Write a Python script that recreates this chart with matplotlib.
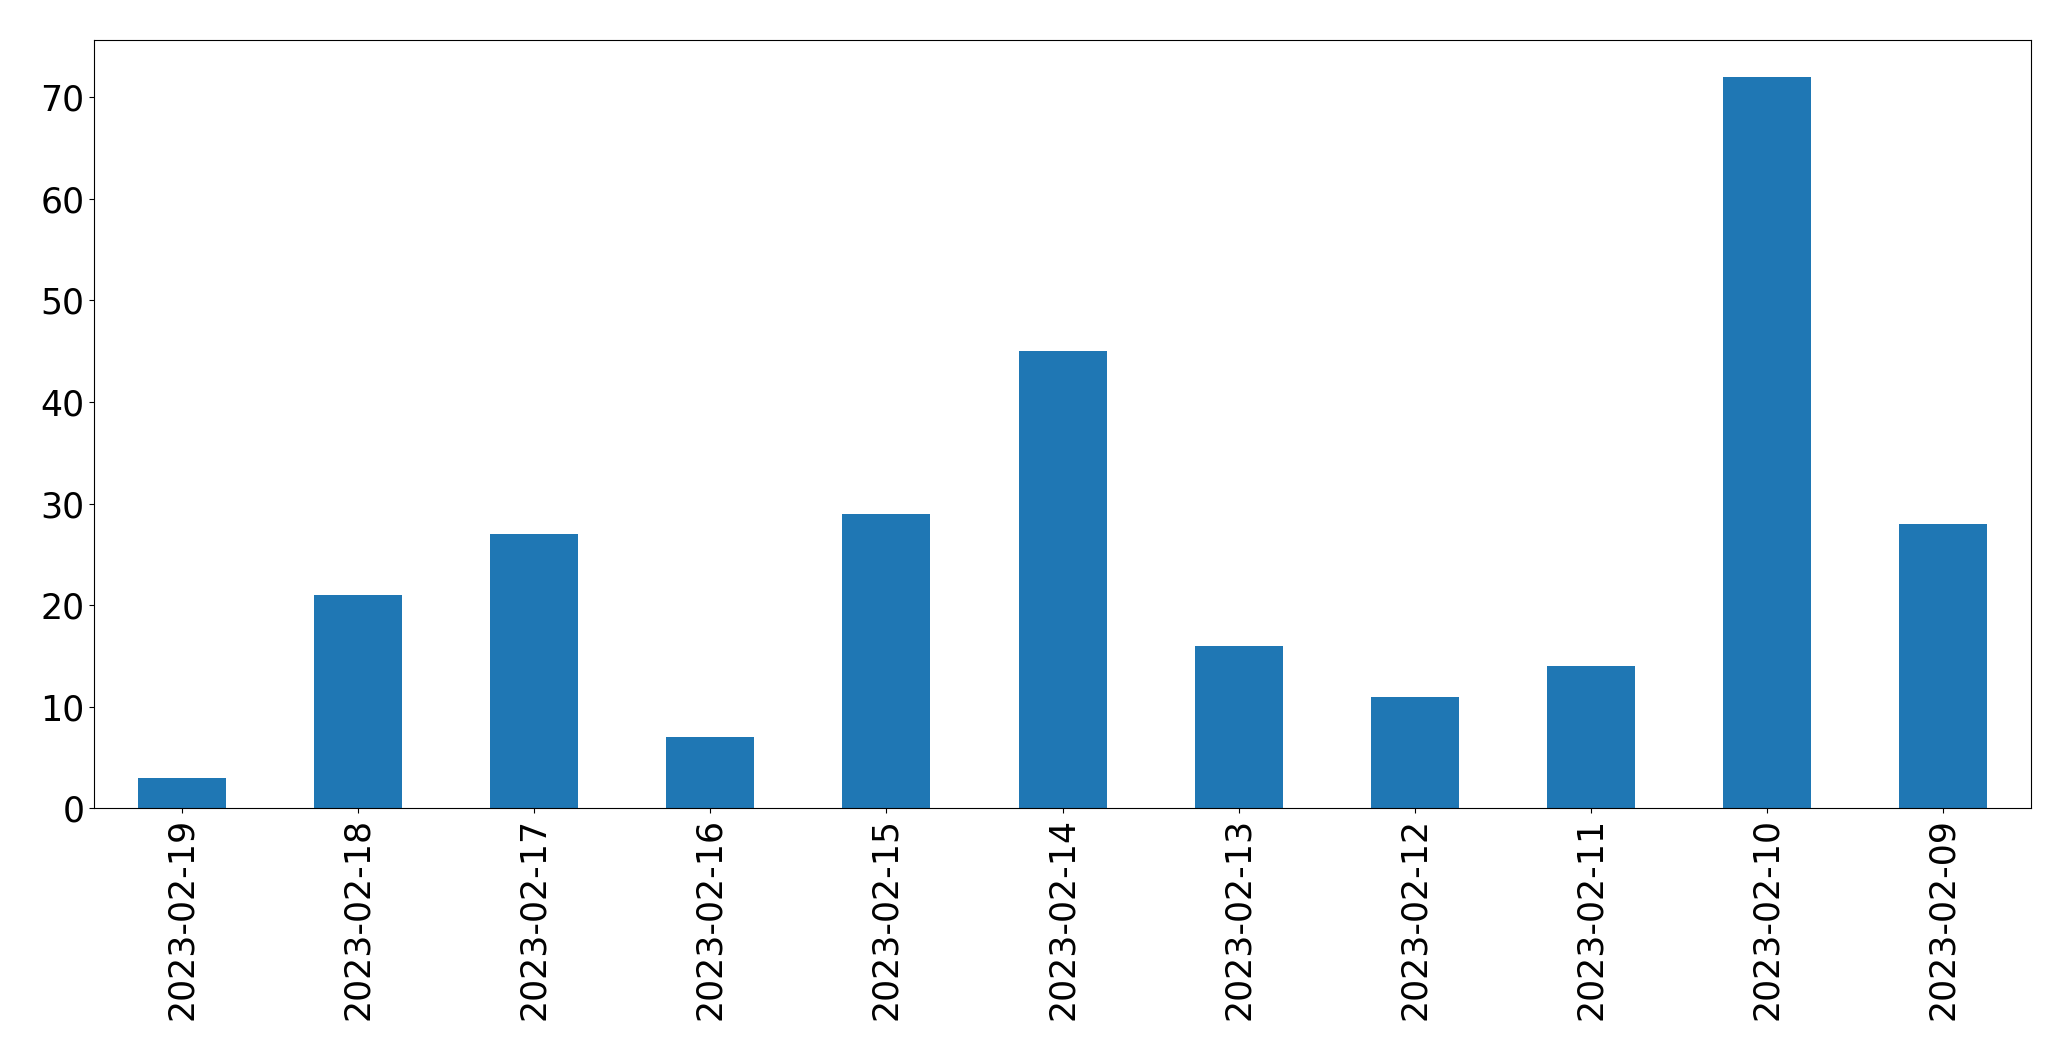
import matplotlib
matplotlib.use("Agg")
import matplotlib.pyplot as plt
import pandas as pd

dates = ['2023-02-19', '2023-02-18', '2023-02-17', '2023-02-16', '2023-02-15',
         '2023-02-14', '2023-02-13', '2023-02-12', '2023-02-11', '2023-02-10',
         '2023-02-09']
counts = [3, 21, 27, 7, 29, 45, 16, 11, 14, 72, 28]

s = pd.Series(counts, index=dates)

fig, ax = plt.subplots(figsize=(20.71, 10.61), dpi=100)
fig.subplots_adjust(left=0.0454, right=0.9807, top=0.962, bottom=0.238)

s.plot(kind='bar', ax=ax, color='#1f77b4', fontsize=25)

plt.savefig("out.png", dpi=100)
